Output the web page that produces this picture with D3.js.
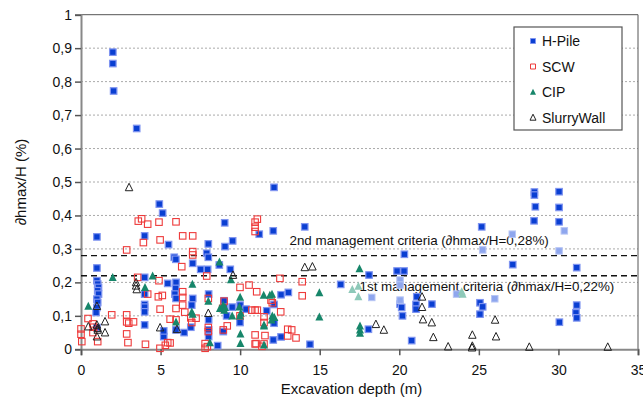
<!DOCTYPE html>
<html>
<head>
<meta charset="utf-8">
<script src="https://cdn.jsdelivr.net/npm/d3@7"></script>
<style>
  body { margin: 0; background: #fff; }
  svg { display: block; font-family: "Liberation Sans", Arial, sans-serif; }
</style>
</head>
<body>
<div id="chart"></div>
<script>
// Data: [excavation depth (m), dhmax/H (%)]
const hPile = [
  [2.0,0.888],[2.0,0.854],[2.05,0.772],[3.5,0.66],
  [4.92,0.434],[5.13,0.407],
  [1.0,0.336],[4.0,0.339],[5.5,0.313],[5.86,0.275],[5.96,0.269],
  [1.0,0.243],[1.0,0.205],[1.05,0.195],[1.1,0.185],[1.05,0.175],[1.1,0.165],[1.0,0.15],[1.05,0.14],[1.0,0.125],[0.95,0.11],[1.0,0.065],
  [4.0,0.215],[4.0,0.165],[4.0,0.134],[4.0,0.126],[4.0,0.112],[4.0,0.073],
  [5.2,0.038],[5.2,0.055],
  [5.45,0.197],[5.97,0.2],[5.95,0.182],[5.9,0.165],[5.97,0.152],[5.97,0.058],
  [6.9,0.066],[6.48,0.05],
  [9.03,0.378],[9.53,0.324],[8.0,0.315],[9.05,0.307],[7.9,0.287],[8.0,0.275],[7.02,0.257],[8.69,0.252],[7.52,0.239],[7.96,0.239],[9.38,0.239],
  [7.02,0.152],[8.02,0.165],[6.96,0.132],[8.99,0.145],[9.0,0.125],[9.15,0.1],[9.5,0.126],[10.0,0.132],[10.37,0.12],[11.67,0.115],
  [8.02,0.088],[8.02,0.058],[8.02,0.038],[8.94,0.053],[8.59,0.011],[9.99,0.08],
  [11.2,0.344],[12.13,0.484],[14.06,0.366],[12.08,0.354],
  [20.32,0.284],[19.86,0.234],[20.3,0.234],[18.1,0.222],[16.32,0.194],[13.03,0.17],[12.57,0.163],[12.13,0.134],[12.13,0.078],
  [20.2,0.1],[21.1,0.157],[21.05,0.134],[21.05,0.12],[22.05,0.135],[20.05,0.135],[20.15,0.125],
  [18.06,0.06],[20.78,0.026],[14.39,0.015],[12.08,0.028],[12.57,0.037],
  [28.49,0.47],[28.49,0.461],[30.04,0.471],[28.55,0.426],[30.04,0.424],[28.47,0.384],[30.04,0.381],
  [25.18,0.366],[27.13,0.253],[31.15,0.244],[25.07,0.139],[25.24,0.127],[25.07,0.105],
  [31.15,0.132],[31.1,0.109],[31.15,0.094],[30.06,0.081]
];
// faded H-Pile points (printed lighter in the original)
const hPileLight = [
  [18.27,0.155],[23.6,0.165],[26.0,0.151],[27.1,0.344],[25.24,0.297],[30.04,0.294],
  [30.37,0.354],[20.05,0.207],[20.05,0.192],[20.05,0.147]
];
const scw = [
  [0,0.061],[0,0.045],[0.05,0.023],[0.44,0.092],[0.75,0.076],[0.8,0.066],[0.75,0.05],[1.05,0.023],[1.93,0.103],
  [2.87,0.297],[3.6,0.383],[3.81,0.39],[4.19,0.374],[4.9,0.38],[3.92,0.319],[4.97,0.327],[3.56,0.215],
  [4.19,0.165],[4.86,0.157],[5.11,0.161],[4.9,0.205],[4.97,0.12],[2.87,0.103],[2.87,0.082],[3.0,0.078],[3.3,0.082],
  [2.87,0.046],[2.95,0.02],[4.05,0.015],[4.96,0.003],[5.3,0.012],[5.45,0.02],[7.8,0.017],[7.8,0.003],
  [11.0,0.017],[11.37,0.009],
  [5.97,0.381],[6.39,0.339],[7.02,0.339],[7.02,0.292],[7.02,0.282],[6.33,0.247],[7.9,0.219],
  [10.94,0.38],[11.08,0.389],[10.94,0.365],[10.94,0.352],[9.99,0.185],[10.56,0.192],[11.04,0.172],
  [6.39,0.172],[6.39,0.155],[5.97,0.122],[6.39,0.132],[6.52,0.111],[8.0,0.152],[8.99,0.144],[8.9,0.122],
  [9.99,0.1],[10.73,0.117],[10.94,0.117],[11.08,0.117],[11.5,0.097],[11.5,0.08],[5.6,0.09],[5.97,0.088],
  [6.9,0.094],[7.23,0.093],[6.96,0.08],[8.0,0.065],[8.0,0.053],[8.94,0.058],[9.19,0.07],
  [10.94,0.043],[11.56,0.041],[10.94,0.016],[11.5,0.016],[7.94,0.008],[5.6,0.019],
  [12.5,0.212],[13.9,0.202],[13.9,0.16],[11.94,0.147],[12.02,0.139],[12.55,0.112],
  [12.99,0.06],[13.24,0.058],[12.99,0.04],[13.51,0.034]
];
const cip = [
  [0.46,0.129],[1.99,0.215],[4.5,0.219],[4.02,0.185],[7.0,0.195],[8.7,0.261],[9.42,0.208],[8.0,0.144],
  [5.97,0.082],[6.96,0.112],[7.02,0.105],[8.73,0.122],[8.94,0.132],[9.05,0.125],[9.0,0.117],[9.5,0.1],
  [10.0,0.156],[9.95,0.127],[10.04,0.108],[9.99,0.1],[10.02,0.046],[10.02,0.018],[8.1,0.02],
  [11.5,0.07],[11.5,0.013],[11.48,0.162],[12.0,0.165],[11.87,0.162],[12.02,0.1],[12.15,0.095],[11.98,0.088],[11.5,0.073],
  [14.98,0.169],[14.98,0.097],[17.5,0.241],[17.53,0.07],[17.53,0.058],[17.53,0.048]
];
const cipLight = [[17.05,0.179],[17.43,0.189],[17.43,0.157],[23.92,0.172],[23.98,0.165]];
const slurryWall = [
  [0.46,0.068],[1.0,0.129],[1.0,0.073],[1.05,0.063],[1.51,0.083],[1.51,0.05],[1.0,0.038],[1.05,0.058],
  [3.02,0.484],[3.46,0.2],[3.46,0.19],[3.5,0.179],[4.97,0.065],[6.03,0.06],[8.0,0.108],[9.55,0.222],
  [14.06,0.245],[14.54,0.247],[18.53,0.075],[19.03,0.058],[21.43,0.157],[21.43,0.126],[21.49,0.089],
  [22.04,0.08],[22.14,0.036],[23.07,0.008],[24.59,0.043],[26.02,0.088],[26.08,0.038],
  [24.57,0.005],[24.59,0.01],[28.17,0.007],[33.1,0.007]
];

const xTicks = [0, 5, 10, 15, 20, 25, 30, 35];
const yTicks = [0, 0.1, 0.2, 0.3, 0.4, 0.5, 0.6, 0.7, 0.8, 0.9, 1];
const criteria = [
  { value: 0.28, label: "2nd management criteria (\u2202hmax/H=0,28%)" },
  { value: 0.22, label: "1st management criteria (\u2202hmax/H=0,22%)" }
];
const legendNames = ["H-Pile", "SCW", "CIP", "SlurryWall"];

document.addEventListener("DOMContentLoaded", function () {
  const W = 643, H = 406;
  const margin = { top: 14.7, right: 5, bottom: 56.7, left: 81 },
        width = W - margin.left - margin.right,
        height = H - margin.top - margin.bottom;

  const svg = d3.select("#chart").append("svg")
    .attr("width", W).attr("height", H);
  const g = svg.append("g")
    .attr("transform", `translate(${margin.left},${margin.top})`);

  const x = d3.scaleLinear().domain([0, 35]).range([0, width]);
  const y = d3.scaleLinear().domain([0, 1]).range([height, 0]);
  const comma = d => String(d).replace(".", ",");

  // dotted grid
  g.selectAll(".grid").data(yTicks.filter(d => d > 0 && d < 1)).join("line")
    .attr("x1", 0).attr("x2", width)
    .attr("y1", d => y(d)).attr("y2", d => y(d))
    .attr("stroke", "#aaa").attr("stroke-dasharray", "2,2");

  // frame (top and right)
  g.append("line").attr("x1", 0).attr("x2", width).attr("y1", 0).attr("y2", 0)
    .attr("stroke", "#555");
  g.append("line").attr("x1", width).attr("x2", width).attr("y1", 0).attr("y2", height)
    .attr("stroke", "#555");

  // axes
  const yAxis = g.append("g")
    .call(d3.axisLeft(y).tickValues(yTicks).tickFormat(comma).tickSize(6).tickPadding(3));
  const xAxis = g.append("g")
    .attr("transform", `translate(0,${height})`)
    .call(d3.axisBottom(x).tickValues(xTicks).tickSize(6).tickPadding(10));
  [xAxis, yAxis].forEach(a => {
    a.select(".domain").attr("stroke", "#888").attr("stroke-width", 2);
    a.selectAll(".tick line").attr("stroke", "#555").attr("stroke-width", 1.5);
    a.selectAll("text").attr("font-size", 14).attr("fill", "#111")
      .attr("font-family", "'Liberation Sans', Arial, sans-serif");
  });

  // management criteria lines
  g.selectAll(".crit").data(criteria).join("line")
    .attr("x1", 0).attr("x2", width)
    .attr("y1", d => y(d.value)).attr("y2", d => y(d.value))
    .attr("stroke", "#111").attr("stroke-width", 1.4).attr("stroke-dasharray", "6,4");
  g.append("text").text(criteria[0].label)
    .attr("x", x(13.1)).attr("y", y(0.28) - 11)
    .attr("font-size", 13.4).attr("fill", "#111");
  g.append("text").text(criteria[1].label)
    .attr("x", x(17.5)).attr("y", y(0.22) - 0)
    .attr("dy", 15)
    .attr("font-size", 13.4).attr("fill", "#111");

  // markers
  const sq = 6.5;
  const tri = (cx, cy, s) => `M${cx},${cy - s * 0.55}L${cx + s / 2},${cy + s * 0.45}L${cx - s / 2},${cy + s * 0.45}Z`;

  g.append("g").selectAll("rect").data(hPile).join("rect")
    .attr("x", d => x(d[0]) - sq / 2).attr("y", d => y(d[1]) - sq / 2)
    .attr("width", sq).attr("height", sq)
    .attr("fill", "#0a3fd2").attr("stroke", "#7f94f0").attr("stroke-width", 1.2);
  g.append("g").selectAll("rect").data(hPileLight).join("rect")
    .attr("x", d => x(d[0]) - sq / 2).attr("y", d => y(d[1]) - sq / 2)
    .attr("width", sq).attr("height", sq)
    .attr("fill", "#8ea6ee").attr("stroke", "#b8c6f4").attr("stroke-width", 1);
  g.append("g").selectAll("rect").data(scw).join("rect")
    .attr("x", d => x(d[0]) - sq / 2).attr("y", d => y(d[1]) - sq / 2)
    .attr("width", sq).attr("height", sq)
    .attr("fill", "none").attr("stroke", "#ee3b3b").attr("stroke-width", 1.1);
  g.append("g").selectAll("path").data(cip).join("path")
    .attr("d", d => tri(x(d[0]), y(d[1]), 8))
    .attr("fill", "#17866a");
  g.append("g").selectAll("path").data(cipLight).join("path")
    .attr("d", d => tri(x(d[0]), y(d[1]), 8))
    .attr("fill", "#8ec9b9");
  g.append("g").selectAll("path").data(slurryWall).join("path")
    .attr("d", d => tri(x(d[0]), y(d[1]), 7.5))
    .attr("fill", "none").attr("stroke", "#222").attr("stroke-width", 1);

  // legend
  const lg = svg.append("g").attr("transform", "translate(514,27)");
  lg.append("rect").attr("width", 108).attr("height", 103)
    .attr("fill", "#fff").attr("stroke", "#555").attr("stroke-width", 1.2);
  const rows = lg.selectAll(".row").data(legendNames).join("g")
    .attr("transform", (d, i) => `translate(19,${14 + i * 25.5})`);
  rows.append("path")
    .attr("d", (d, i) => i < 2 ? "M-2.5,-2.5h5v5h-5Z" : tri(0, 0, 6))
    .attr("fill", (d, i) => ["#0a3fd2", "none", "#17866a", "none"][i])
    .attr("stroke", (d, i) => ["#7f94f0", "#ee3b3b", "none", "#222"][i])
    .attr("stroke-width", 1);
  rows.append("text").text(d => d)
    .attr("x", 9).attr("dy", "0.36em")
    .attr("font-size", 14).attr("fill", "#111");

  // axis titles
  svg.append("text").text("Excavation depth (m)")
    .attr("x", margin.left + width / 2 - 8).attr("y", 394)
    .attr("text-anchor", "middle").attr("font-size", 15).attr("fill", "#111");
  svg.append("text").text("\u2202hmax/H (%)")
    .attr("transform", "translate(26,182) rotate(-90)")
    .attr("text-anchor", "middle").attr("font-size", 15).attr("fill", "#111");
});
</script>
</body>
</html>
